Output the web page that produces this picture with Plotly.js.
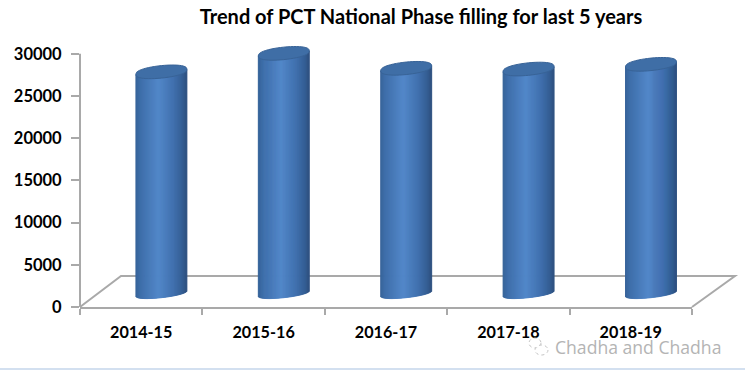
<!DOCTYPE html>
<html><head><meta charset="utf-8">
<script src="https://cdn.plot.ly/plotly-3.0.1.min.js"></script>
<style>html,body{margin:0;padding:0;background:#fff}#c{width:745px;height:376px}</style>
</head><body><div id="c"></div>
<script>
const years = ["2014-15","2015-16","2016-17","2017-18","2018-19"];
const filings = [27870,30060,28290,28200,28760];
const yTicks = [0,5000,10000,15000,20000,25000,30000];
const floorValue = 1660;
const yMax = 32000;

const L=80,R=692,B=307,T=B-253*yMax/30000;
const px=x=>(x-L)/(R-L), py=y=>(B-y)/(B-T);
const barShift=0.165, barHalf=0.208, tilt=300, ry=740, N=51;
const stops=[[0,[54,98,152]],[0.1,[62,110,170]],[0.45,[82,135,201]],[0.75,[64,112,174]],[0.92,[52,94,148]],[1,[46,80,128]]];
function shade(f){
  for(let i=1;i<stops.length;i++){ if(f<=stops[i][0]){
    const a=stops[i-1],b=stops[i],k=(f-a[0])/(b[0]-a[0]);
    return 'rgb('+a[1].map((v,j)=>Math.round(v+(b[1][j]-v)*k)).join(',')+')';
  }}
  return 'rgb(46,80,128)';
}
const traces=[];
for(let i=0;i<N;i++){
  const f=(i+0.5)/N, t=2*f-1, w=2*barHalf/N;
  const c=shade(f);
  const bases=filings.map(()=>floorValue+tilt*t*1.1-ry*Math.pow(1-t*t,0.4)*0.75);
  traces.push({type:'bar',x:years,y:filings.map((v,k)=>v+tilt*t-bases[k]),base:bases,
    offset:barShift-barHalf+i*w,width:w,marker:{color:c,line:{color:c,width:1}},hoverinfo:'skip',showlegend:false});
}
function ellipse(k,v){
  let d='';
  for(let a=0;a<48;a++){
    const th=a/48*2*Math.PI,t=Math.cos(th),s=Math.sin(th);
    const x=k+barShift+barHalf*t, y=v+tilt*t+ry*Math.sign(s)*Math.pow(Math.abs(s),0.8);
    d+=(a?'L':'M')+x.toFixed(4)+','+y.toFixed(1)+' ';
  }
  return d+'Z';
}
const axisGrey='#a9a9a9';
const shapes=[
 {type:'path',xref:'paper',yref:'paper',layer:'below',
  path:`M${px(80)},${py(307)} L${px(121)},${py(276)} L${px(735)},${py(276)} L${px(692)},${py(307)}`,
  line:{color:axisGrey,width:2},fillcolor:'rgba(0,0,0,0)'},
 {type:'line',xref:'paper',yref:'y',x0:0,x1:0,y0:0,y1:30000,layer:'below',line:{color:axisGrey,width:2}},
 {type:'rect',xref:'paper',yref:'paper',x0:px(0),x1:px(745),y0:py(370),y1:py(368),fillcolor:'#d3e0f0',line:{width:0}},
 {type:'circle',xref:'paper',yref:'paper',x0:px(529),x1:px(541),y0:py(348),y1:py(338),line:{color:'#c4c4c4',width:1,dash:'dot'},fillcolor:'rgba(255,255,255,0.7)'},
 {type:'circle',xref:'paper',yref:'paper',x0:px(535),x1:px(548),y0:py(355),y1:py(345),line:{color:'#c4c4c4',width:1,dash:'dot'},fillcolor:'rgba(255,255,255,0.7)'}
];
filings.forEach((v,k)=>{
  shapes.push({type:'path',xref:'x',yref:'y',layer:'above',path:ellipse(k,v),fillcolor:'#3f6ea6',line:{color:'#386397',width:1}});
});
const font={family:'Lato, "Open Sans", sans-serif',color:'#000'};
const layout={
 width:745,height:376,margin:{l:L,r:745-R,t:T,b:376-B,pad:0},
 paper_bgcolor:'#fff',plot_bgcolor:'rgba(0,0,0,0)',barmode:'overlay',showlegend:false,
 title:{text:'<b>Trend of PCT National Phase filling for last 5 years</b>',x:(200+642)/2/745,xanchor:'center',y:1-17/376,yanchor:'middle',font:{...font,size:20}},
 xaxis:{type:'category',categoryorder:'array',categoryarray:years,range:[-0.5,4.5],tickson:'boundaries',ticks:'outside',ticklen:6,tickwidth:2,tickcolor:axisGrey,
   showline:true,linecolor:axisGrey,linewidth:2,showgrid:false,zeroline:false,tickfont:{...font,size:16.2,weight:700},ticklabelstandoff:10},
 yaxis:{range:[0,yMax],tickvals:yTicks,ticktext:yTicks.map(String),ticks:'outside',ticklen:8,tickwidth:2,tickcolor:axisGrey,
   showline:false,showgrid:false,zeroline:false,tickfont:{...font,size:16.5,weight:700},ticklabelstandoff:6},
 shapes:shapes,
 annotations:[{xref:'paper',yref:'paper',x:px(553),y:py(347),xanchor:'left',yanchor:'middle',showarrow:false,
   text:'Chadha and Chadha',font:{family:'"Open Sans", sans-serif',size:17.6,color:'#b4b4b4'}}]
};
Plotly.newPlot('c',traces,layout,{displayModeBar:false,staticPlot:true});
</script></body></html>
